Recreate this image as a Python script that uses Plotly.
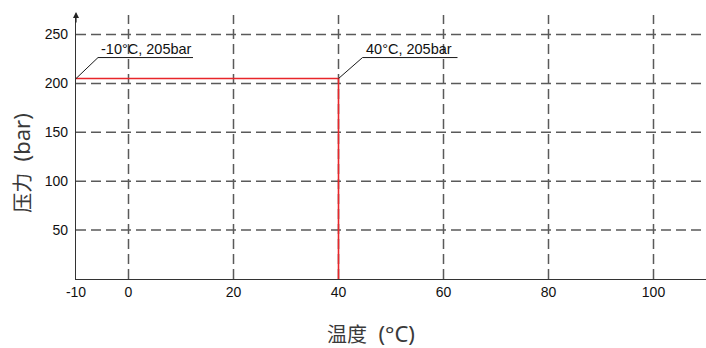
import plotly.graph_objects as go

# Data
temp_c = [-10, 40, 40]
pressure_bar = [205, 205, 0]
x_ticks = [-10, 0, 20, 40, 60, 80, 100]
x_grid = [0, 20, 40, 60, 80, 100]
y_ticks = [50, 100, 150, 200, 250]
point_labels = ["-10°C, 205bar", "40°C, 205bar"]
point_x = [-10, 40]
point_y = [205, 205]
x_title_cjk, x_title_unit = "温度", "(°C)"
y_title_cjk, y_title_unit = "压力", "(bar)"

fig = go.Figure()
fig.add_trace(go.Scatter(x=temp_c, y=pressure_bar, mode="lines",
                         line=dict(color="#e8262a", width=1.6), showlegend=False,
                         hoverinfo="skip"))

grid_style = dict(color="#5a5a5a", width=1.5, dash="10px,5px")
shapes = []
for gx in x_grid:
    shapes.append(dict(type="line", xref="x", yref="paper", x0=gx, x1=gx, y0=0, y1=1,
                       line=grid_style, layer="below"))
for gy in y_ticks:
    shapes.append(dict(type="line", xref="paper", yref="y", x0=0, x1=1, y0=gy, y1=gy,
                       line=grid_style, layer="below"))

annotations = []
for lbl, px, py in zip(point_labels, point_x, point_y):
    dx = 22 if px == point_x[0] else 24
    shapes.append(dict(type="line", xref="x", yref="y", xsizemode="pixel", ysizemode="pixel",
                       xanchor=px, yanchor=py, x0=0, x1=dx, y0=0, y1=21,
                       line=dict(color="#1a1a1a", width=1)))
    shapes.append(dict(type="line", xref="x", yref="y", xsizemode="pixel", ysizemode="pixel",
                       xanchor=px, yanchor=py, x0=dx, x1=dx + 95, y0=21, y1=21,
                       line=dict(color="#1a1a1a", width=1)))
    annotations.append(dict(x=px, y=py, xref="x", yref="y", text=lbl, showarrow=False,
                            xanchor="left", yanchor="bottom", xshift=dx + 1, yshift=20,
                            font=dict(family="Liberation Sans, Arial", size=14.5, color="#111")))

# y-axis arrow head
annotations.append(dict(x=-10, y=1, xref="x", yref="paper", ax=0, ay=12, axref="pixel",
                        ayref="pixel", showarrow=True, arrowhead=2, arrowsize=1,
                        arrowwidth=1.2, arrowcolor="#222", text="", yshift=3))

title_font = dict(family="Noto Sans, Noto Sans CJK SC", size=22, color="#3a3a3a")
annotations.append(dict(x=0.468, y=0, xref="paper", yref="paper", yshift=-54,
                        text=f"<span style='font-size:20px'>{x_title_cjk}</span>  {x_title_unit}",
                        showarrow=False, xanchor="center", yanchor="middle", font=title_font))
annotations.append(dict(x=0, y=0.44, xref="paper", yref="paper", xshift=-55,
                        text=f"<span style='font-size:20px'>{y_title_cjk}</span>  {y_title_unit}",
                        showarrow=False, textangle=-90, xanchor="center", yanchor="middle",
                        font=title_font))

fig.update_layout(
    width=706, height=348,
    margin=dict(l=76, r=0, t=15, b=69),
    paper_bgcolor="white", plot_bgcolor="white",
    shapes=shapes, annotations=annotations,
    xaxis=dict(range=[-10, 110], tickvals=x_ticks, ticktext=[str(v) for v in x_ticks],
               showgrid=False, zeroline=False, showline=True, linecolor="#333",
               linewidth=1.2, ticks="", tickfont=dict(family="Liberation Sans, Arial",
                                                      size=14, color="#111")),
    yaxis=dict(range=[0, 270], tickvals=y_ticks, showgrid=False, zeroline=False,
               showline=True, linecolor="#333", linewidth=1.2, ticks="",
               ticklabelstandoff=4,
               tickfont=dict(family="Liberation Sans, Arial", size=14, color="#111")),
)

fig.write_html("out.html", config={"displayModeBar": False},
               post_script="document.body.style.margin='0';document.body.style.overflow='hidden';")
